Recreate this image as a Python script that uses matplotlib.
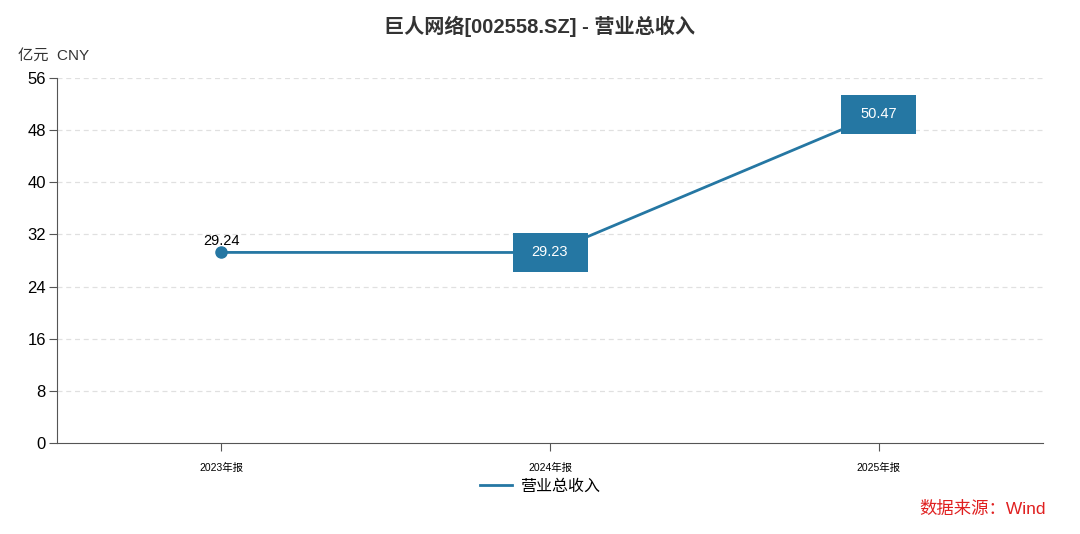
import matplotlib
matplotlib.use("Agg")
import matplotlib.pyplot as plt
import matplotlib.patches as mpatches
import matplotlib.transforms as mtransforms

plt.rcParams['font.family'] = ['Liberation Sans', 'Noto Sans CJK SC', 'DejaVu Sans']

periods = ['2023年报', '2024年报', '2025年报']
revenue = [29.24, 29.23, 50.47]
yticks = [0, 8, 16, 24, 32, 40, 48, 56]
blue = '#2577a3'

fig = plt.figure(figsize=(10.8, 5.34), dpi=100)
ax = fig.add_axes([57/1080, 91/534, 986/1080, 365/534])
x = list(range(len(periods)))
ax.plot(x, revenue, color=blue, lw=2, label='营业总收入', zorder=3)
ax.plot(x[0], revenue[0], 'o', color=blue, ms=8, zorder=4)
ax.set_xlim(-0.5, len(periods) - 0.5)
ax.set_ylim(0, 56)
ax.set_yticks(yticks)
ax.set_yticklabels([str(t) for t in yticks], fontsize=12)
ax.set_xticks(x)
ax.set_xticklabels(periods, fontsize=7.5)
for t in yticks[1:]:
    ax.axhline(t, color='#e0e0e0', lw=0.9, ls=(0, (4, 3)), zorder=1)
for s in ['top', 'right']:
    ax.spines[s].set_visible(False)
for s in ['left', 'bottom']:
    ax.spines[s].set_color('#555555')
ax.tick_params(axis='y', length=6, color='#555555', pad=2)
ax.tick_params(axis='x', length=6, color='#555555', pad=8)

# first value plain label, others in filled boxes
ax.annotate(f'{revenue[0]:.2f}', (x[0], revenue[0]), xytext=(0, 3),
            textcoords='offset points', ha='center', va='bottom',
            fontsize=10.5, color='black', zorder=5)
for xi, v in zip(x[1:], revenue[1:]):
    tr = mtransforms.ScaledTranslation(xi, v, ax.transData)
    ax.add_patch(mpatches.Rectangle((-37.5, -19.5), 75, 39, transform=tr,
                                    facecolor=blue, edgecolor='none',
                                    zorder=5, clip_on=False))
    ax.text(xi, v, f'{v:.2f}', ha='center', va='center', fontsize=10.5,
            color='white', zorder=6)

fig.text(540/1080, 1 - 26/534, '巨人网络[002558.SZ] - 营业总收入', ha='center',
         va='center', fontsize=14.5, fontweight='bold', color='#333333')
fig.text(18/1080, 1 - 56/534, '亿元  CNY', ha='left', va='center',
         fontsize=11, color='#333333')
leg = fig.legend(loc='center', bbox_to_anchor=(540/1080, 1 - 486/534),
                 frameon=False, fontsize=11.5, handlelength=2, handletextpad=0.5)
fig.text(1046/1080, 1 - 509/534, '数据来源：Wind', ha='right', va='center',
         fontsize=12.5, color='#e02020')

fig.savefig('out.png', dpi=100)
